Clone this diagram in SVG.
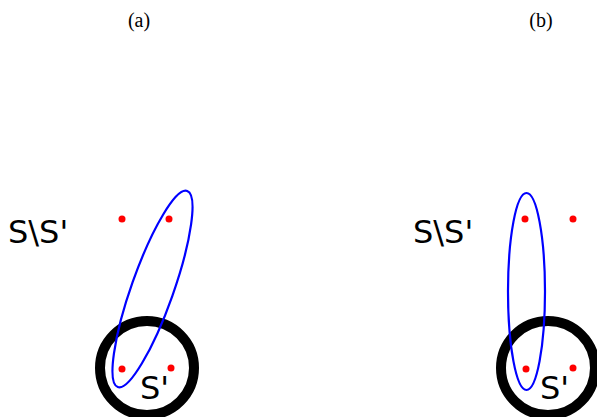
<svg xmlns="http://www.w3.org/2000/svg" width="597" height="417" viewBox="0 0 597 417">
<style>
.cap{font-family:"Liberation Serif",serif;font-size:20px;fill:#000;text-anchor:middle}
.lbl{font-family:"DejaVu Sans",sans-serif;font-size:32px;fill:#000}
.ring{fill:none;stroke:#000;stroke-width:10}
.blob{fill:none;stroke:#0000ff;stroke-width:2.2}
.dot{fill:#ff0000}
</style>
<rect width="597" height="417" fill="#fff"/>
<g id="panel-a">
  <text class="cap" x="139" y="27">(a)</text>
  <g id="a-ring"><circle class="ring" cx="147" cy="368" r="47"/></g>
  <g id="a-dots">
    <circle class="dot" cx="122" cy="219" r="3.5"/>
    <circle class="dot" cx="169" cy="219" r="3.5"/>
    <circle class="dot" cx="122" cy="369" r="3.5"/>
    <circle class="dot" cx="171" cy="368" r="3.5"/>
  </g>
  <g id="a-ellipse"><ellipse class="blob" cx="152.5" cy="289" rx="21" ry="104" transform="rotate(19.5 152.5 289)"/></g>
  <text class="lbl" x="8" y="243">S\S'</text>
  <text class="lbl" x="140" y="399">S'</text>
</g>
<g id="panel-b">
  <text class="cap" x="541" y="27">(b)</text>
  <g id="b-ring"><circle class="ring" cx="548" cy="368" r="47"/></g>
  <g id="b-dots">
    <circle class="dot" cx="525" cy="219" r="3.5"/>
    <circle class="dot" cx="573" cy="219" r="3.5"/>
    <circle class="dot" cx="526" cy="369" r="3.5"/>
    <circle class="dot" cx="573" cy="368" r="3.5"/>
  </g>
  <g id="b-ellipse"><ellipse class="blob" cx="526.5" cy="291.5" rx="18.5" ry="98.5"/></g>
  <text class="lbl" x="413" y="243">S\S'</text>
  <text class="lbl" x="540" y="399">S'</text>
</g>
<g id="connectors"></g>
</svg>
